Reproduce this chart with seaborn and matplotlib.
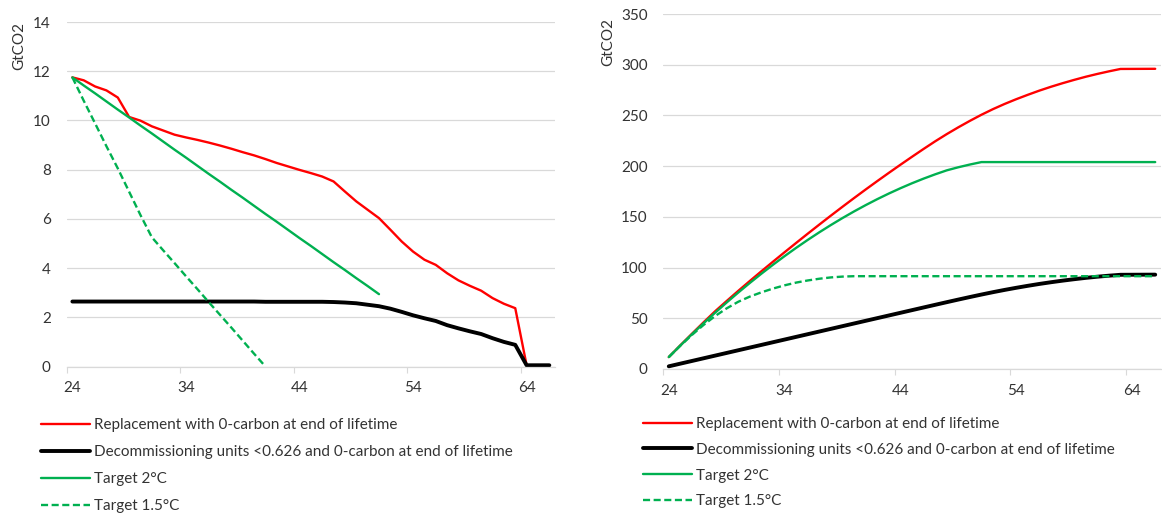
import numpy as np
import pandas as pd
import matplotlib
matplotlib.use("Agg")
import matplotlib.pyplot as plt
import seaborn as sns

# ---------------- data ----------------
years = list(range(24, 67))
x_tick_labels = [24, 34, 44, 54, 64]

series_names = [
    "Replacement with 0-carbon at end of lifetime",
    "Decommissioning units <0.626 and 0-carbon at end of lifetime",
    "Target 2°C",
    "Target 1.5°C",
]

# annual emissions (GtCO2), left panel
red_annual = [11.75, 11.63, 11.38, 11.22, 10.93, 10.14, 9.99, 9.76, 9.59, 9.42,
              9.31, 9.21, 9.10, 8.98, 8.85, 8.71, 8.58, 8.43, 8.27, 8.13,
              7.99, 7.86, 7.72, 7.52, 7.11, 6.71, 6.37, 6.03, 5.56, 5.08,
              4.67, 4.34, 4.13, 3.79, 3.50, 3.28, 3.08, 2.78, 2.55, 2.37,
              0.05, 0.05, 0.05]
black_annual = [2.64, 2.64, 2.64, 2.64, 2.64, 2.64, 2.64, 2.64, 2.64, 2.64,
                2.64, 2.64, 2.64, 2.64, 2.64, 2.64, 2.64, 2.63, 2.63, 2.63,
                2.63, 2.63, 2.63, 2.62, 2.60, 2.57, 2.51, 2.45, 2.35, 2.22,
                2.08, 1.96, 1.85, 1.68, 1.55, 1.43, 1.32, 1.15, 1.00, 0.88,
                0.05, 0.05, 0.05]
target2_annual = [11.75, 11.42, 11.10, 10.77, 10.44, 10.12, 9.79, 9.47, 9.14, 8.81,
                  8.49, 8.16, 7.83, 7.51, 7.18, 6.86, 6.53, 6.20, 5.88, 5.55,
                  5.22, 4.90, 4.57, 4.24, 3.92, 3.59, 3.27, 2.94]
target15_annual = [11.75, 10.80, 9.88, 8.95, 8.05, 7.10, 6.15, 5.25, 4.72, 4.20,
                   3.67, 3.15, 2.62, 2.10, 1.58, 1.05, 0.52, 0.00]

# cumulative emissions (GtCO2), right panel
red_cum = [11.75, 23.38, 34.76, 45.98, 56.91, 67.05, 77.04, 86.80, 96.39, 105.81,
           115.12, 124.33, 133.43, 142.41, 151.26, 159.97, 168.55, 176.98, 185.25, 193.38,
           201.37, 209.23, 216.95, 224.47, 231.58, 238.29, 244.66, 250.69, 256.25, 261.33,
           266.00, 270.34, 274.47, 278.26, 281.76, 285.04, 288.12, 290.90, 293.45, 295.82,
           295.87, 295.92, 295.97]
black_cum = [2.64, 5.28, 7.92, 10.56, 13.20, 15.84, 18.48, 21.12, 23.76, 26.40,
             29.04, 31.68, 34.32, 36.96, 39.60, 42.24, 44.88, 47.51, 50.14, 52.77,
             55.40, 58.03, 60.66, 63.28, 65.88, 68.45, 70.96, 73.41, 75.76, 77.98,
             80.06, 82.02, 83.87, 85.55, 87.10, 88.53, 89.85, 91.00, 92.00, 92.88,
             92.93, 92.98, 93.03]
target2_cum = [11.75, 23.17, 34.27, 45.04, 55.48, 65.60, 75.39, 84.86, 94.00, 102.81,
               111.30, 119.46, 127.29, 134.80, 141.98, 148.84, 155.37, 161.57, 167.45, 173.00,
               178.22, 183.12, 187.69, 191.93, 195.85, 198.9, 201.6, 204.0, 204.0, 204.0,
               204.0, 204.0, 204.0, 204.0, 204.0, 204.0, 204.0, 204.0, 204.0, 204.0,
               204.0, 204.0, 204.0]
target15_cum = [11.75, 23.0, 33.6, 43.4, 52.2, 59.8, 66.3, 71.4, 75.6, 79.3,
                82.5, 85.2, 87.3, 89.0, 90.3, 91.1, 91.5, 91.5, 91.5, 91.5,
                91.5, 91.5, 91.5, 91.5, 91.5, 91.5, 91.5, 91.5, 91.5, 91.5,
                91.5, 91.5, 91.5, 91.5, 91.5, 91.5, 91.5, 91.5, 91.5, 91.5,
                91.5, 91.5, 91.5]

# ---------------- style ----------------
sns.set_theme(style="white")
plt.rcParams["font.family"] = ["Lato", "DejaVu Sans"]
plt.rcParams["font.size"] = 11

RED = "#FF0000"
BLACK = "#000000"
GREEN = "#00B050"
GRID = "#D9D9D9"
TEXT = "#333333"
FS = 11

styles = [
    dict(color=RED, linewidth=1.7),
    dict(color=BLACK, linewidth=2.8, solid_capstyle="round"),
    dict(color=GREEN, linewidth=1.7),
    dict(color=GREEN, linewidth=1.7, linestyle=(0, (3.0, 1.5))),
]

W, H = 1162, 515
fig = plt.figure(figsize=(W / 100, H / 100), dpi=100)

def px_axes(x0, x1, ytop, ybot):
    return fig.add_axes([x0 / W, 1 - ybot / H, (x1 - x0) / W, (ybot - ytop) / H])

ax1 = px_axes(66.7, 555, 22, 366.5)
ax2 = px_axes(663, 1161, 14, 369)

left_data = [red_annual, black_annual, target2_annual, target15_annual]
right_data = [red_cum, black_cum, target2_cum, target15_cum]

for ax, data in [(ax1, left_data), (ax2, right_data)]:
    for name, vals, st in zip(series_names, data, styles):
        df = pd.DataFrame({"year": years[:len(vals)], "value": vals})
        sns.lineplot(data=df, x="year", y="value", ax=ax, label=name,
                     estimator=None, sort=False, **st)

def style_axis(ax, ymax, ystep, ypad, ylab_xy, leg_xy, labelspacing):
    ax.set_xlim(23.5, 66.5)
    ax.set_ylim(0, ymax)
    ticks = np.arange(0, ymax + 0.001, ystep)
    ax.set_yticks(ticks)
    ax.set_yticklabels([f"{int(v)}" for v in ticks])
    ax.set_xticks(x_tick_labels)
    ax.set_xticklabels([str(v) for v in x_tick_labels])
    ax.set_xticks([t - 0.5 for t in x_tick_labels], minor=True)
    ax.tick_params(axis="x", which="major", length=0, pad=10.5, labelsize=FS, labelcolor=TEXT)
    ax.tick_params(axis="x", which="minor", length=4, width=0.8, color=GRID, direction="out", bottom=True)
    ax.tick_params(axis="y", length=0, pad=ypad, labelsize=FS, labelcolor=TEXT)
    ax.grid(True, axis="y", color=GRID, linewidth=0.9)
    ax.grid(False, axis="x")
    ax.set_axisbelow(True)
    for s in ["left", "right", "top"]:
        ax.spines[s].set_visible(False)
    ax.spines["bottom"].set_color(GRID)
    ax.spines["bottom"].set_linewidth(0.9)
    ax.set_xlabel("")
    ax.set_ylabel("GtCO2", fontsize=FS, color=TEXT, va="center")
    ax.yaxis.set_label_coords(*ylab_xy)
    ax.legend(loc="upper left", bbox_to_anchor=leg_xy, bbox_transform=fig.transFigure,
              frameon=False, fontsize=FS, handlelength=3.2, handletextpad=0.29,
              labelspacing=labelspacing, borderpad=0, borderaxespad=0, labelcolor=TEXT)

style_axis(ax1, 14, 2, 11.5, (-0.0977, 0.93), (40.7 / W, 1 - 418.5 / H), 0.85)
style_axis(ax2, 350, 50, 11, (-0.1094, 0.92), (643 / W, 1 - 417.0 / H), 0.77)

fig.savefig("out.png", dpi=100)
